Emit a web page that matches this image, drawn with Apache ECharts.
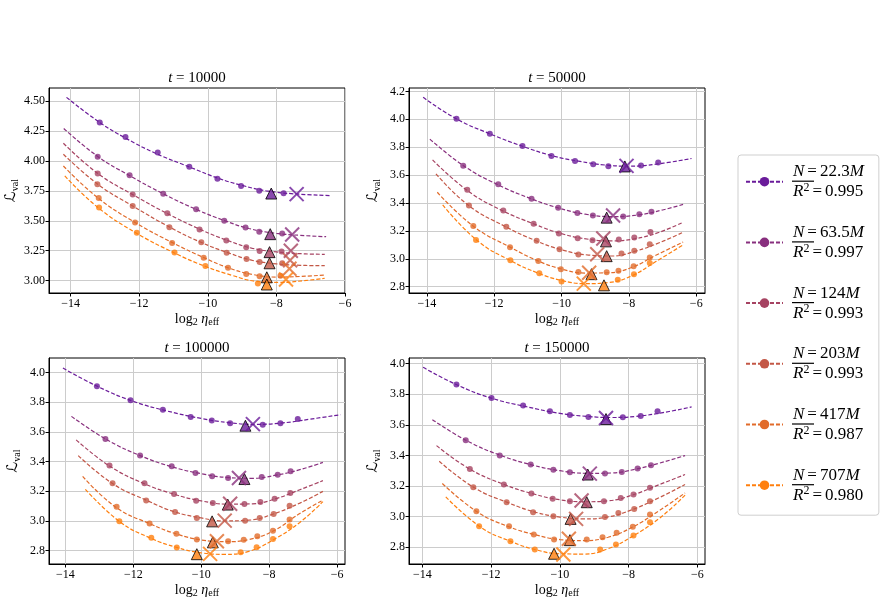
<!DOCTYPE html>
<html><head><meta charset="utf-8">
<script src="https://cdn.jsdelivr.net/npm/echarts@6/dist/echarts.min.js"></script>
<style>html,body{margin:0;padding:0;background:#fff}#c{width:885px;height:603px}</style>
</head><body><div id="c"></div>
<script>
// ---------- data ----------
const modelSizes = ['22.3', '63.5', '124', '203', '417', '707'];
const r2Values = ['0.995', '0.997', '0.993', '0.993', '0.987', '0.980'];
const seriesColors = ['#6a1b9a', '#882f7e', '#a64362', '#c35746', '#e16b2a', '#ff7f0e'];
const stepTitles = ['10000', '50000', '100000', '150000'];
const xTicks = [-14, -12, -10, -8, -6];
const yTicks_t10000 = [3.00, 3.25, 3.50, 3.75, 4.00, 4.25, 4.50];
const yTicks_t50000 = [2.8, 3.0, 3.2, 3.4, 3.6, 3.8, 4.0, 4.2];
const yTicks_t100000 = [2.8, 3.0, 3.2, 3.4, 3.6, 3.8, 4.0];
const yTicks_t150000 = [2.8, 3.0, 3.2, 3.4, 3.6, 3.8, 4.0];

// observed runs [log2 eta_eff, L_val]
const pts_t10000 = [
  [[-13.15,4.32],[-12.40,4.20],[-11.46,4.07],[-10.54,3.95],[-9.72,3.85],[-9.03,3.79],[-8.50,3.75],[-7.79,3.73]],
  [[-13.21,4.035],[-12.28,3.88],[-11.30,3.725],[-10.34,3.595],[-9.52,3.50],[-8.90,3.443],[-8.50,3.408],[-7.83,3.394]],
  [[-13.21,3.895],[-12.19,3.72],[-11.18,3.563],[-10.24,3.428],[-9.46,3.335],[-8.88,3.278],[-8.49,3.248],[-7.85,3.243]],
  [[-13.22,3.805],[-12.19,3.624],[-11.12,3.446],[-10.19,3.32],[-9.45,3.232],[-8.87,3.18],[-8.49,3.155],[-7.83,3.145]],
  [[-13.18,3.69],[-12.12,3.485],[-11.04,3.315],[-10.12,3.192],[-9.41,3.107],[-8.88,3.056],[-8.49,3.037],[-7.88,3.04]],
  [[-13.17,3.61],[-12.07,3.40],[-10.97,3.236],[-10.07,3.123],[-8.54,2.976]]
];
const pts_t50000 = [
  [[-13.12,4.004],[-12.13,3.896],[-11.16,3.808],[-10.30,3.737],[-9.60,3.70],[-9.06,3.678],[-8.61,3.663],[-7.64,3.669],[-7.13,3.69]],
  [[-12.92,3.666],[-11.88,3.535],[-10.89,3.43],[-10.10,3.365],[-9.53,3.328],[-9.07,3.31],[-8.17,3.303],[-7.69,3.32],[-7.33,3.337]],
  [[-12.80,3.494],[-11.73,3.347],[-10.83,3.252],[-10.08,3.182],[-9.52,3.148],[-9.08,3.133],[-8.30,3.138],[-7.84,3.153],[-7.36,3.193]],
  [[-12.75,3.382],[-11.64,3.23],[-10.74,3.129],[-10.06,3.068],[-9.50,3.031],[-8.22,3.038],[-7.84,3.057],[-7.38,3.105]],
  [[-12.62,3.236],[-11.53,3.083],[-10.69,2.985],[-10.02,2.926],[-9.50,2.905],[-8.66,2.903],[-8.31,2.915],[-7.86,2.946],[-7.38,3.01]],
  [[-12.54,3.135],[-11.52,2.99],[-10.66,2.897],[-10.0,2.838],[-8.33,2.85],[-7.85,2.89],[-7.38,2.97]]
];
const pts_t100000 = [
  [[-13.07,3.906],[-12.08,3.812],[-11.13,3.749],[-10.31,3.699],[-9.69,3.677],[-9.15,3.657],[-8.19,3.648],[-7.67,3.657],[-7.16,3.686]],
  [[-12.82,3.552],[-11.80,3.441],[-10.87,3.368],[-10.17,3.323],[-9.68,3.30],[-9.21,3.289],[-8.22,3.296],[-7.75,3.311],[-7.37,3.334]],
  [[-12.70,3.373],[-11.67,3.254],[-10.80,3.182],[-10.15,3.136],[-9.66,3.121],[-8.73,3.114],[-8.26,3.127],[-7.84,3.15],[-7.38,3.188]],
  [[-12.61,3.254],[-11.62,3.138],[-10.77,3.06],[-10.13,3.02],[-8.71,3.002],[-8.28,3.02],[-7.87,3.047],[-7.40,3.103]],
  [[-12.49,3.095],[-11.52,2.983],[-10.73,2.913],[-10.13,2.875],[-9.21,2.863],[-8.75,2.874],[-8.35,2.896],[-7.89,2.934],[-7.40,3.009]],
  [[-12.41,2.998],[-11.47,2.886],[-10.72,2.821],[-8.84,2.789],[-8.37,2.822],[-7.89,2.878],[-7.40,2.964]]
];
const pts_t150000 = [
  [[-13.01,3.863],[-11.99,3.776],[-11.07,3.726],[-10.29,3.689],[-9.71,3.665],[-9.17,3.652],[-8.17,3.649],[-7.65,3.658],[-7.16,3.689]],
  [[-12.74,3.499],[-11.75,3.399],[-10.85,3.34],[-10.19,3.307],[-9.71,3.29],[-8.69,3.281],[-8.20,3.292],[-7.74,3.314],[-7.35,3.336]],
  [[-12.62,3.312],[-11.63,3.21],[-10.83,3.151],[-10.21,3.116],[-9.71,3.101],[-8.72,3.101],[-8.23,3.122],[-7.86,3.144],[-7.38,3.188]],
  [[-12.52,3.192],[-11.55,3.094],[-10.78,3.029],[-10.19,3.003],[-8.69,2.998],[-8.30,3.024],[-7.84,3.05],[-7.38,3.10]],
  [[-12.43,3.035],[-11.48,2.937],[-10.76,2.883],[-10.17,2.85],[-9.22,2.85],[-8.76,2.865],[-8.35,2.894],[-7.88,2.933],[-7.38,3.013]],
  [[-12.35,2.937],[-11.44,2.839],[-10.73,2.785],[-8.83,2.785],[-8.37,2.818],[-7.86,2.876],[-7.38,2.963]]
];

// fitted curves, sampled by eye from the figure
const fit_t10000 = [
  [[-14.12,4.53],[-13.15,4.32],[-12.4,4.19],[-11.5,4.06],[-10.5,3.945],[-9.7,3.855],[-9.0,3.795],[-8.3,3.75],[-7.5,3.725],[-6.4,3.71]],
  [[-14.2,4.27],[-13.2,4.035],[-12.3,3.88],[-11.3,3.725],[-10.3,3.59],[-9.5,3.50],[-8.8,3.435],[-8.0,3.395],[-7.3,3.378],[-6.55,3.367]],
  [[-14.21,4.147],[-13.2,3.893],[-12.2,3.72],[-11.2,3.563],[-10.2,3.425],[-9.4,3.333],[-8.7,3.27],[-8.0,3.24],[-7.3,3.225],[-6.59,3.22]],
  [[-14.21,4.055],[-13.2,3.803],[-12.2,3.625],[-11.1,3.445],[-10.2,3.32],[-9.4,3.232],[-8.7,3.17],[-8.0,3.14],[-7.3,3.128],[-6.59,3.125]],
  [[-14.21,3.957],[-13.2,3.69],[-12.1,3.482],[-11.0,3.313],[-10.1,3.19],[-9.4,3.107],[-8.7,3.052],[-8.0,3.03],[-7.3,3.035],[-6.59,3.047]],
  [[-14.17,3.874],[-13.2,3.61],[-12.1,3.40],[-11.0,3.235],[-10.1,3.122],[-9.3,3.045],[-8.6,2.995],[-7.9,2.985],[-7.2,3.0],[-6.59,3.02]]
];
const fit_t50000 = [
  [[-14.11,4.157],[-13.1,4.0],[-12.1,3.893],[-11.2,3.81],[-10.3,3.74],[-9.5,3.70],[-8.7,3.672],[-8.0,3.664],[-7.2,3.678],[-6.14,3.719]],
  [[-13.91,3.858],[-12.9,3.665],[-11.9,3.532],[-10.9,3.43],[-10.1,3.365],[-9.3,3.32],[-8.5,3.302],[-7.7,3.315],[-7.0,3.35],[-6.39,3.39]],
  [[-13.83,3.709],[-12.8,3.49],[-11.8,3.35],[-10.8,3.248],[-10.0,3.18],[-9.2,3.14],[-8.5,3.128],[-7.8,3.145],[-7.1,3.19],[-6.39,3.262]],
  [[-13.73,3.609],[-12.75,3.38],[-11.7,3.235],[-10.8,3.133],[-10.0,3.065],[-9.2,3.027],[-8.5,3.02],[-7.8,3.055],[-7.1,3.115],[-6.39,3.19]],
  [[-13.69,3.477],[-12.6,3.23],[-11.5,3.08],[-10.7,2.985],[-10.0,2.927],[-9.3,2.898],[-8.6,2.9],[-7.9,2.94],[-7.2,3.025],[-6.39,3.12]],
  [[-13.53,3.386],[-12.5,3.13],[-11.5,2.985],[-10.7,2.898],[-10.0,2.845],[-9.3,2.822],[-8.6,2.83],[-7.9,2.88],[-7.2,2.98],[-6.39,3.10]]
];
const fit_t100000 = [
  [[-14.07,4.029],[-13.0,3.9],[-12.0,3.805],[-11.0,3.74],[-10.0,3.69],[-9.2,3.662],[-8.4,3.65],[-7.6,3.66],[-6.8,3.685],[-5.9,3.715]],
  [[-13.82,3.704],[-12.8,3.55],[-11.8,3.44],[-10.9,3.367],[-10.0,3.318],[-9.2,3.292],[-8.5,3.287],[-7.8,3.308],[-7.1,3.345],[-6.42,3.394]],
  [[-13.68,3.546],[-12.7,3.37],[-11.7,3.253],[-10.8,3.18],[-10.0,3.135],[-9.2,3.113],[-8.5,3.115],[-7.8,3.15],[-7.1,3.21],[-6.42,3.271]],
  [[-13.62,3.44],[-12.6,3.25],[-11.6,3.138],[-10.8,3.062],[-10.0,3.02],[-9.3,3.0],[-8.6,3.005],[-7.9,3.045],[-7.1,3.12],[-6.42,3.199]],
  [[-13.49,3.30],[-12.5,3.09],[-11.5,2.98],[-10.7,2.91],[-10.0,2.872],[-9.3,2.86],[-8.6,2.875],[-7.9,2.93],[-7.1,3.05],[-6.42,3.14]],
  [[-13.41,3.213],[-12.4,2.995],[-11.5,2.885],[-10.7,2.82],[-10.0,2.785],[-9.3,2.775],[-8.6,2.795],[-7.9,2.87],[-7.1,2.99],[-6.42,3.13]]
];
const fit_t150000 = [
  [[-13.98,3.976],[-13.0,3.862],[-12.0,3.775],[-11.0,3.72],[-10.0,3.675],[-9.2,3.655],[-8.5,3.648],[-7.8,3.655],[-7.0,3.68],[-6.17,3.717]],
  [[-13.71,3.634],[-12.7,3.495],[-11.7,3.398],[-10.8,3.337],[-10.0,3.3],[-9.2,3.283],[-8.5,3.285],[-7.8,3.31],[-7.1,3.35],[-6.36,3.399]],
  [[-13.59,3.464],[-12.6,3.308],[-11.6,3.208],[-10.8,3.15],[-10.0,3.11],[-9.3,3.097],[-8.6,3.103],[-7.9,3.14],[-7.1,3.21],[-6.36,3.275]],
  [[-13.51,3.362],[-12.5,3.19],[-11.5,3.09],[-10.7,3.028],[-10.0,2.997],[-9.3,2.985],[-8.6,2.998],[-7.9,3.045],[-7.1,3.125],[-6.36,3.21]],
  [[-13.42,3.216],[-12.4,3.03],[-11.5,2.935],[-10.7,2.88],[-10.0,2.85],[-9.3,2.843],[-8.6,2.865],[-7.9,2.93],[-7.1,3.04],[-6.36,3.155]],
  [[-13.32,3.129],[-12.3,2.93],[-11.4,2.835],[-10.7,2.783],[-10.0,2.757],[-9.3,2.755],[-8.6,2.79],[-7.9,2.87],[-7.1,2.99],[-6.36,3.14]]
];

// observed optimum (triangles) and fitted optimum (crosses)
const obsMin_t10000 = [[-8.15,3.727],[-8.18,3.388],[-8.2,3.238],[-8.2,3.145],[-8.28,3.028],[-8.28,2.968]];
const fitMin_t10000 = [[-7.41,3.722],[-7.54,3.385],[-7.58,3.25],[-7.6,3.17],[-7.62,3.10],[-7.72,3.01]];
const obsMin_t50000 = [[-8.12,3.662],[-8.66,3.295],[-8.68,3.125],[-8.66,3.019],[-9.11,2.89],[-8.74,2.81]];
const fitMin_t50000 = [[-8.07,3.666],[-8.47,3.31],[-8.76,3.145],[-8.94,3.033],[-9.18,2.90],[-9.34,2.822]];
const obsMin_t100000 = [[-8.70,3.641],[-8.73,3.282],[-9.22,3.11],[-9.68,2.997],[-9.66,2.856],[-10.13,2.776]];
const fitMin_t100000 = [[-8.48,3.652],[-8.89,3.289],[-9.15,3.116],[-9.31,3.002],[-9.54,2.863],[-9.74,2.778]];
const obsMin_t150000 = [[-8.66,3.638],[-9.19,3.275],[-9.22,3.094],[-9.69,2.985],[-9.71,2.846],[-10.17,2.757]];
const fitMin_t150000 = [[-8.66,3.645],[-9.13,3.281],[-9.37,3.105],[-9.53,2.985],[-9.74,2.855],[-9.90,2.752]];

// ---------- layout ----------
const SERIF = "'Liberation Serif','Times New Roman',serif";
const panels = [
  { grid: {left: 49, top: 88, width: 296, height: 205}, xr: [-14.63, -6.0], yr: [2.897, 4.608], dec: 2,
    yTicks: yTicks_t10000, pts: pts_t10000, fit: fit_t10000, obs: obsMin_t10000, opt: fitMin_t10000 },
  { grid: {left: 409, top: 88, width: 296, height: 205}, xr: [-14.53, -5.74], yr: [2.755, 4.224], dec: 1,
    yTicks: yTicks_t50000, pts: pts_t50000, fit: fit_t50000, obs: obsMin_t50000, opt: fitMin_t50000 },
  { grid: {left: 49, top: 358, width: 296, height: 206}, xr: [-14.48, -5.77], yr: [2.71, 4.097], dec: 1,
    yTicks: yTicks_t100000, pts: pts_t100000, fit: fit_t100000, obs: obsMin_t100000, opt: fitMin_t100000 },
  { grid: {left: 409, top: 358, width: 296, height: 206}, xr: [-14.39, -5.78], yr: [2.69, 4.037], dec: 1,
    yTicks: yTicks_t150000, pts: pts_t150000, fit: fit_t150000, obs: obsMin_t150000, opt: fitMin_t150000 }
];
const seriesNames = modelSizes.map(s => 'N=' + s + 'M');

const grids = [], xAxes = [], yAxes = [], titles = [], series = [];
panels.forEach((p, k) => {
  grids.push(Object.assign({show: true, borderColor: '#000', borderWidth: 1, containLabel: false}, p.grid));
  titles.push({
    text: '{it|t} = ' + stepTitles[k],
    left: p.grid.left + p.grid.width / 2, top: p.grid.top - 17, textAlign: 'center', padding: 0,
    textStyle: {fontFamily: SERIF, fontSize: 15, fontWeight: 'normal', color: '#000',
      rich: {it: {fontFamily: SERIF, fontSize: 15, fontStyle: 'italic', color: '#000'}}}
  });
  xAxes.push({
    type: 'value', gridIndex: k, min: p.xr[0], max: p.xr[1],
    axisLine: {show: true, onZero: false, lineStyle: {color: '#000', width: 1}},
    axisTick: {show: true, length: 3.5, customValues: xTicks, lineStyle: {color: '#000', width: 1}},
    axisLabel: {customValues: xTicks, margin: 5, color: '#000', fontFamily: SERIF, fontSize: 12,
      formatter: v => (v < 0 ? '\u2212' : '') + Math.abs(v)},
    splitLine: {show: true, lineStyle: {color: '#cccccc', width: 1}},
    name: 'log{sub|2} {it|η}{sub|eff}', nameLocation: 'middle', nameGap: 17,
    nameTextStyle: {fontFamily: SERIF, fontSize: 14, color: '#000', lineHeight: 16,
      rich: {sub: {fontFamily: SERIF, fontSize: 10, lineHeight: 10, verticalAlign: 'bottom', color: '#000'},
             it: {fontFamily: SERIF, fontSize: 14, fontStyle: 'italic', color: '#000'}}}
  });
  yAxes.push({
    type: 'value', gridIndex: k, min: p.yr[0], max: p.yr[1],
    axisLine: {show: true, onZero: false, lineStyle: {color: '#000', width: 1}},
    axisTick: {show: true, length: 3.5, customValues: p.yTicks, lineStyle: {color: '#000', width: 1}},
    axisLabel: {customValues: p.yTicks, margin: 4, color: '#000', fontFamily: SERIF, fontSize: 12,
      formatter: v => v.toFixed(p.dec)},
    splitLine: {show: true, lineStyle: {color: '#cccccc', width: 1}},
    name: '{L|ℒ}{sub|val}', nameLocation: 'middle', nameGap: 27, nameRotate: 90,
    nameTextStyle: {fontFamily: SERIF, fontSize: 14, color: '#000', lineHeight: 17,
      rich: {L: {fontFamily: "'DejaVu Serif','DejaVu Sans',serif", fontSize: 15, color: '#000'},
             sub: {fontFamily: SERIF, fontSize: 10, lineHeight: 10, verticalAlign: 'bottom', color: '#000'}}}
  });
  for (let i = 0; i < 6; i++) {
    const c = seriesColors[i];
    series.push({
      type: 'line', name: seriesNames[i], xAxisIndex: k, yAxisIndex: k, data: p.fit[i],
      smooth: 0.45, showSymbol: false, symbol: 'circle', z: 2, silent: true,
      lineStyle: {color: c, width: 1.2, type: [4, 2]}, itemStyle: {color: c}
    });
    series.push({
      type: 'scatter', name: seriesNames[i], xAxisIndex: k, yAxisIndex: k, data: p.pts[i],
      symbol: 'circle', symbolSize: 6, z: 3, silent: true, itemStyle: {color: c}
    });
    series.push({
      type: 'scatter', name: seriesNames[i], xAxisIndex: k, yAxisIndex: k, data: [p.obs[i]],
      symbol: 'triangle', symbolSize: 11, z: 4, silent: true,
      itemStyle: {color: c, borderColor: '#000', borderWidth: 1}
    });
    series.push({
      type: 'scatter', name: seriesNames[i], xAxisIndex: k, yAxisIndex: k, data: [p.opt[i]],
      symbol: 'path://M0,0L10,10M10,0L0,10', symbolSize: 14, z: 5, silent: true,
      itemStyle: {color: 'none', borderColor: c, borderWidth: 2}
    });
  }
});

// legend geometry
const LG = {left: 738, top: 155, padT: 6.7, padL: 7, itemW: 37, itemH: 12, lineH: 20, gap: 20.7};
const overlines = seriesNames.map((n, i) => {
  const y = LG.top + LG.padT + i * (2 * LG.lineH + LG.gap) + LG.lineH - 0.5;
  const x = LG.left + LG.padL + LG.itemW + 5 + 5;
  return {type: 'line', shape: {x1: x, y1: y, x2: x + 22, y2: y}, style: {stroke: '#000', lineWidth: 1.2}, z: 100};
});

const chart = echarts.init(document.getElementById('c'), null, {renderer: 'canvas'});
chart.setOption({
  animation: false,
  backgroundColor: '#fff',
  title: titles,
  grid: grids,
  xAxis: xAxes,
  yAxis: yAxes,
  legend: {
    orient: 'vertical', left: LG.left, top: LG.top, padding: [LG.padT, 15, 10, LG.padL],
    itemWidth: LG.itemW, itemHeight: LG.itemH, itemGap: LG.gap, selectedMode: false,
    borderColor: '#cfcfcf', borderWidth: 1, borderRadius: 3, backgroundColor: '#fff',
    data: seriesNames,
    formatter: name => {
      const i = seriesNames.indexOf(name);
      return '{i|N}{e|=}' + modelSizes[i] + '{i|M}\n{i|R}{s|2}{e|=}' + r2Values[i];
    },
    textStyle: {fontFamily: SERIF, fontSize: 17, lineHeight: LG.lineH, color: '#000', padding: [0, 0, 0, 5],
      rich: {
        i: {fontFamily: SERIF, fontSize: 17, fontStyle: 'italic', lineHeight: LG.lineH, color: '#000'},
        e: {fontFamily: SERIF, fontSize: 17, lineHeight: LG.lineH, padding: [0, 3, 0, 3], color: '#000'},
        s: {fontFamily: SERIF, fontSize: 12, lineHeight: 13, verticalAlign: 'top', color: '#000'}
      }}
  },
  graphic: overlines,
  series: series
});
</script></body></html>
